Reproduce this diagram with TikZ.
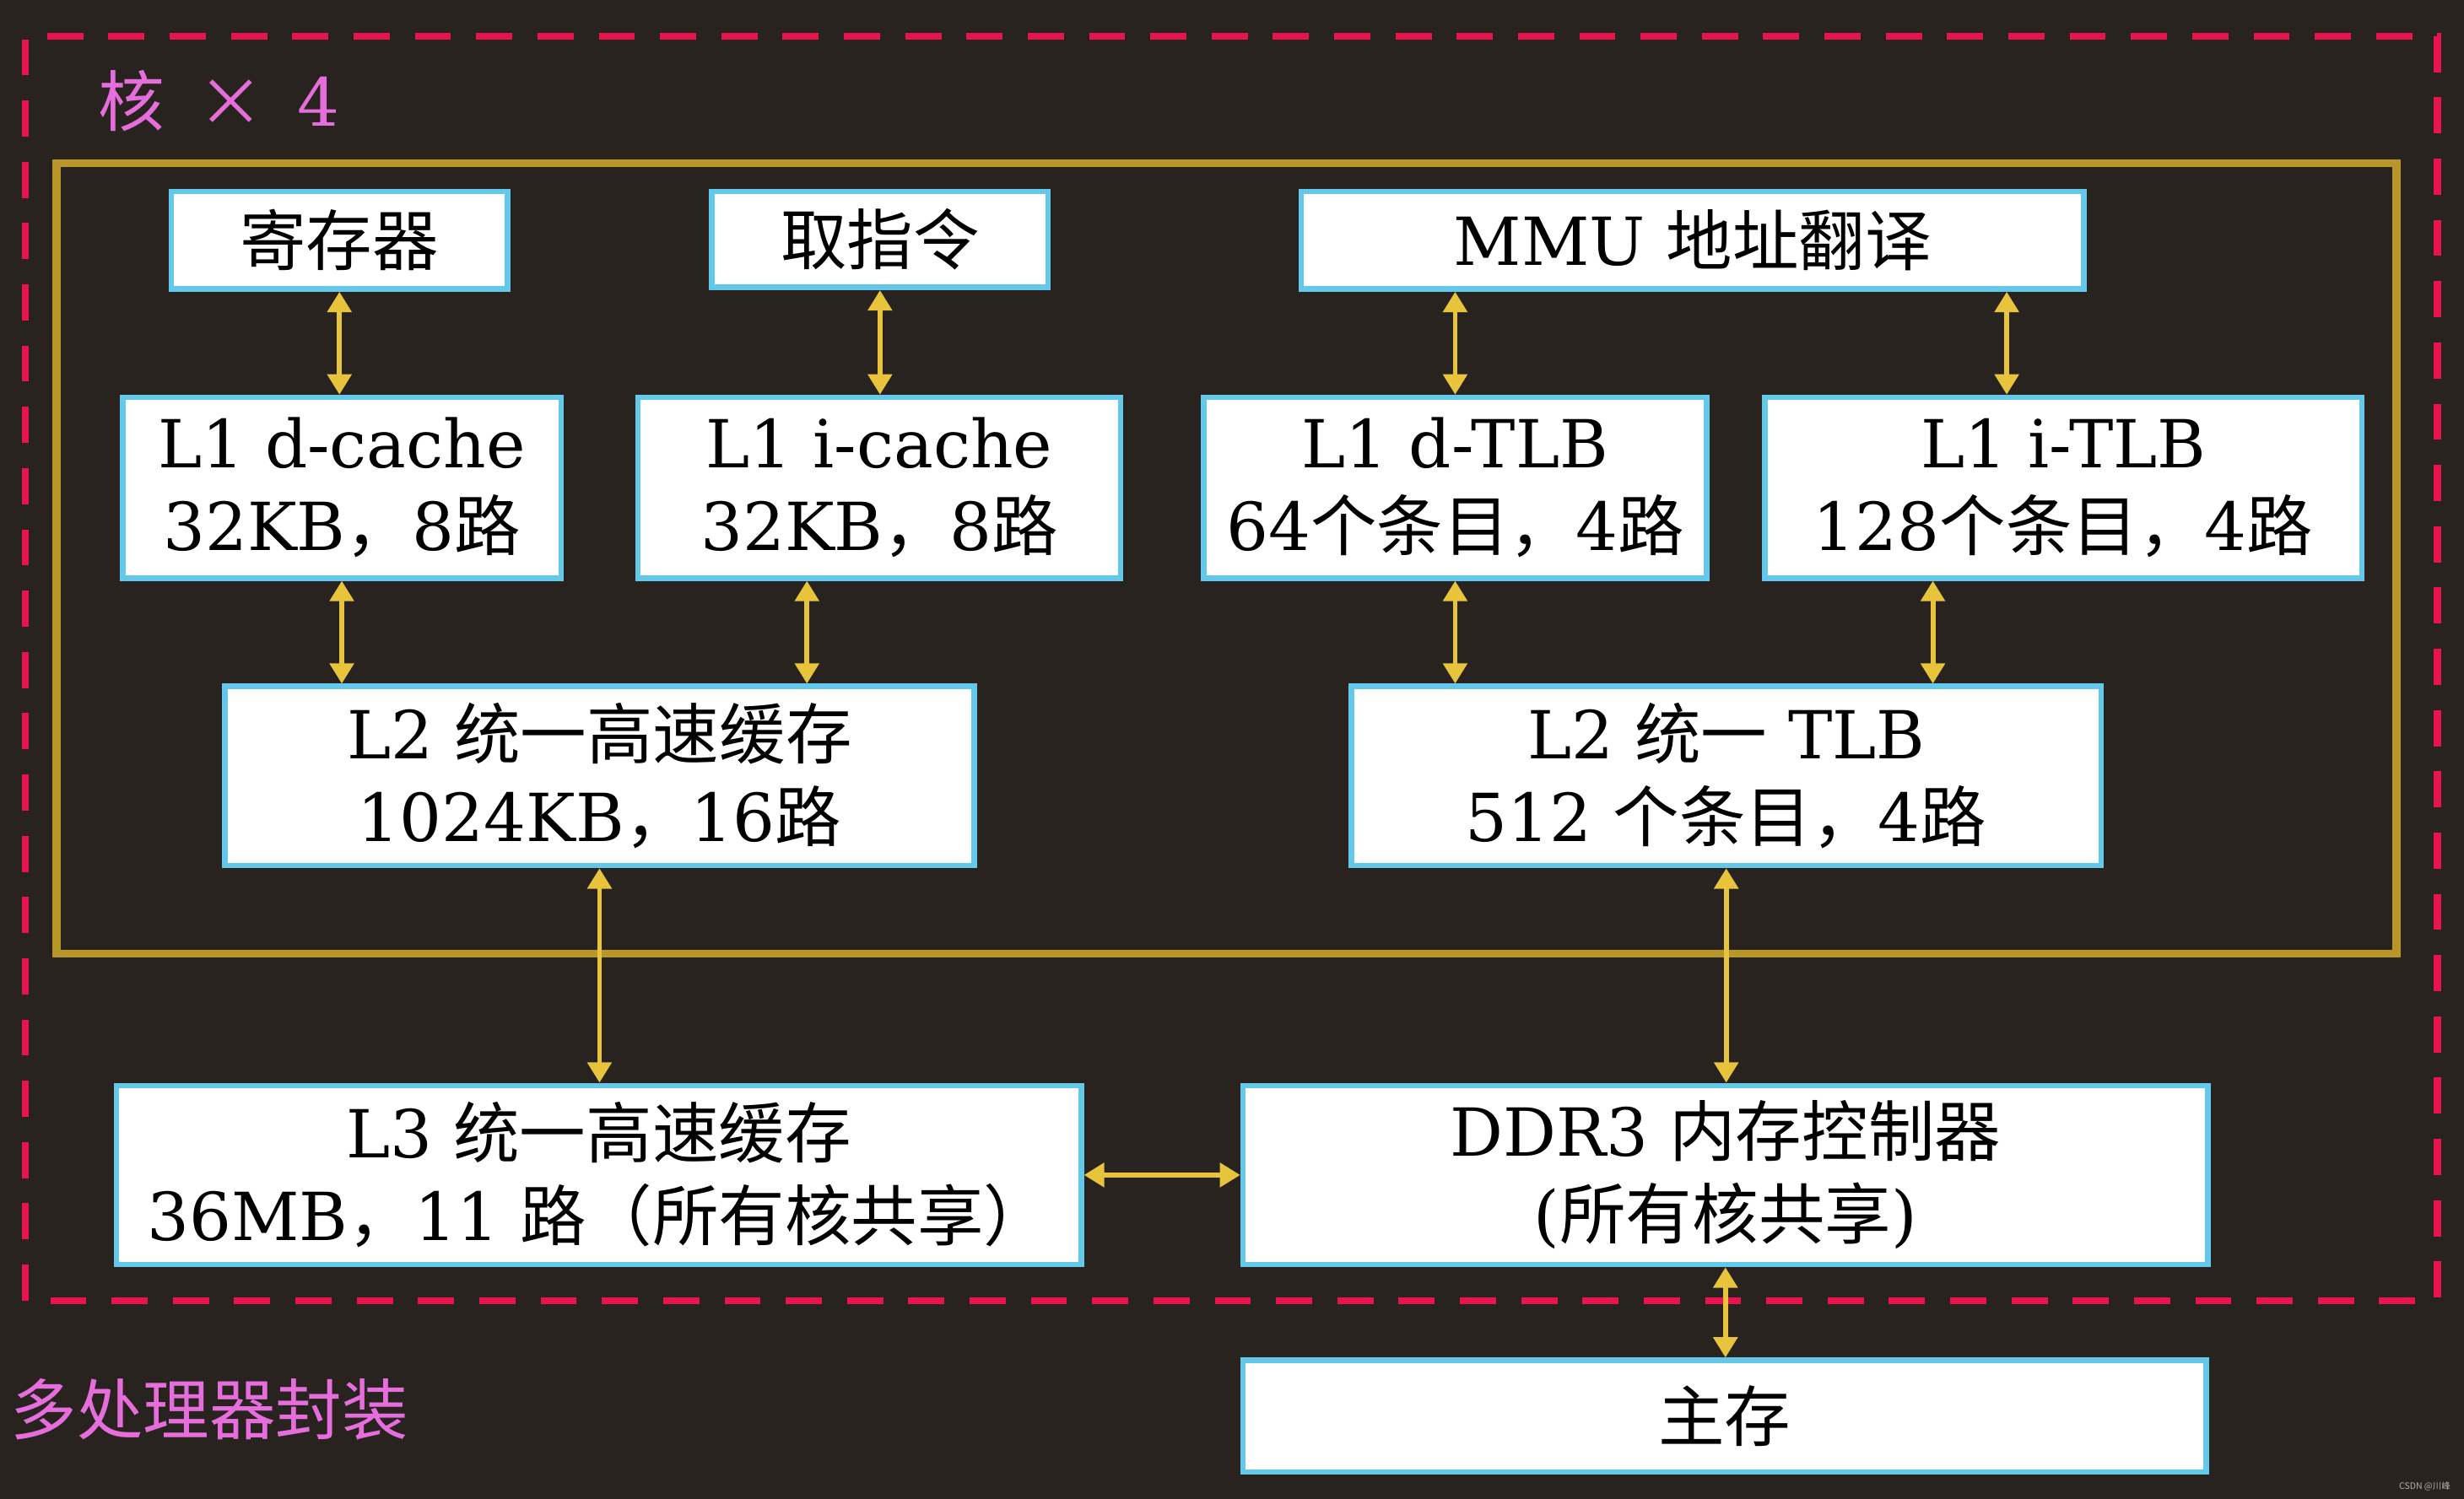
\documentclass[tikz,border=0pt]{standalone}
\usepackage{fontspec}
\usepackage{xcolor}
\usepackage{tikz}
\usetikzlibrary{arrows.meta}
\setmainfont{DejaVu Serif}
\newfontfamily\cjk{Noto Sans CJK SC}
\definecolor{bgdark}{RGB}{40,35,31}
\definecolor{pkgred}{RGB}{232,20,78}
\definecolor{coregold}{RGB}{184,150,40}
\definecolor{arrgold}{RGB}{232,195,60}
\definecolor{boxblue}{RGB}{100,200,235}
\definecolor{labpink}{RGB}{230,110,220}

\begin{document}
\begin{tikzpicture}[
  arr/.style={{Triangle[length=1.3mm,width=1.5mm]}-{Triangle[length=1.3mm,width=1.5mm]},line width=0.9pt,arrgold},
  box/.style={draw=boxblue,fill=white,line width=1pt,align=center,inner sep=0pt,
    font=\fontsize{12}{15}\selectfont},
  lab/.style={labpink,inner sep=0pt,font=\fontsize{12}{15}\selectfont}]
  %% background and frames
  \fill[bgdark] (0,0) rectangle (15.68,9.54);
  \useasboundingbox (0,0) rectangle (15.68,9.54);
  \draw[pkgred,line width=1.3pt,dash pattern=on 2.3mm off 1.6mm] (0.16,1.26) rectangle (15.51,9.31);
  \draw[coregold,line width=1.4pt] (0.36,3.47) rectangle (15.25,8.50);
  \node[lab,anchor=west] (core) at (0.62,8.90) {{\cjk 核}\hspace{0.5em}{\cjk ×}\hspace{0.5em}4};
  \node[lab,anchor=west] (pkg) at (0.06,0.57) {\cjk 多处理器封装};
  %% first row
  \node[box,minimum width=2.14cm,minimum height=0.62cm] (reg) at (2.16,8.01) {\cjk 寄存器};
  \node[box,minimum width=2.14cm,minimum height=0.61cm] (fetch) at (5.60,8.015) {\cjk 取指令};
  \node[box,minimum width=4.98cm,minimum height=0.62cm] (mmu) at (10.77,8.01) {MMU {\cjk 地址翻译}};
  %% L1
  \node[box,minimum width=2.79cm,minimum height=1.15cm] (l1d) at (2.175,6.435)
    {L1 d-cache\\32KB{\cjk ，}8{\cjk 路}};
  \node[box,minimum width=3.07cm,minimum height=1.15cm] (l1i) at (5.595,6.435)
    {L1 i-cache\\32KB{\cjk ，}8{\cjk 路}};
  \node[box,minimum width=3.20cm,minimum height=1.15cm] (dtlb) at (9.26,6.435)
    {L1 d-TLB\\64{\cjk 个条目，}4{\cjk 路}};
  \node[box,minimum width=3.80cm,minimum height=1.15cm] (itlb) at (13.13,6.435)
    {L1 i-TLB\\128{\cjk 个条目，}4{\cjk 路}};
  %% L2
  \node[box,minimum width=4.77cm,minimum height=1.14cm] (l2c) at (3.815,4.60)
    {L2 {\cjk 统一高速缓存}\\1024KB{\cjk ，}16{\cjk 路}};
  \node[box,minimum width=4.77cm,minimum height=1.14cm] (l2t) at (10.985,4.60)
    {L2 {\cjk 统一} TLB\\512 {\cjk 个条目，}4{\cjk 路}};
  %% shared
  \node[box,minimum width=6.14cm,minimum height=1.14cm] (l3) at (3.81,2.06)
    {L3 {\cjk 统一高速缓存}\\36MB{\cjk ，}11 {\cjk 路（所有核共享）}};
  \node[box,minimum width=6.14cm,minimum height=1.14cm] (ddr) at (10.98,2.06)
    {DDR3 {\cjk 内存控制器}\\({\cjk 所有核共享})};
  \node[box,minimum width=6.13cm,minimum height=0.71cm] (mem) at (10.975,0.525) {\cjk 主存};
  \node[gray!60,inner sep=0pt,font=\fontsize{1.6}{2}\selectfont,anchor=east] (mark) at (15.60,0.08) {\cjk CSDN @川峰};
  %% links
  \coordinate (itlbtop) at ([xshift=-3.6mm]itlb.north);
  \coordinate (itlbbot) at ([xshift=-8.3mm]itlb.south);
  \coordinate (l1ibot) at ([xshift=-4.6mm]l1i.south);
  \draw[arr] (reg.south) -- (reg.south |- l1d.north);
  \draw[arr] (fetch.south) -- (fetch.south |- l1i.north);
  \draw[arr] (dtlb.north) -- (dtlb.north |- mmu.south);
  \draw[arr] (itlbtop) -- (itlbtop |- mmu.south);
  \draw[arr] (l1d.south) -- (l1d.south |- l2c.north);
  \draw[arr] (l1ibot) -- (l1ibot |- l2c.north);
  \draw[arr] (dtlb.south) -- (dtlb.south |- l2t.north);
  \draw[arr] (itlbbot) -- (itlbbot |- l2t.north);
  \draw[arr] (l2c.south) -- (l2c.south |- l3.north);
  \draw[arr] (l2t.south) -- (l2t.south |- ddr.north);
  \draw[arr] (l3.east) -- (ddr.west);
  \draw[arr] (ddr.south) -- (ddr.south |- mem.north);
\end{tikzpicture}
\end{document}
